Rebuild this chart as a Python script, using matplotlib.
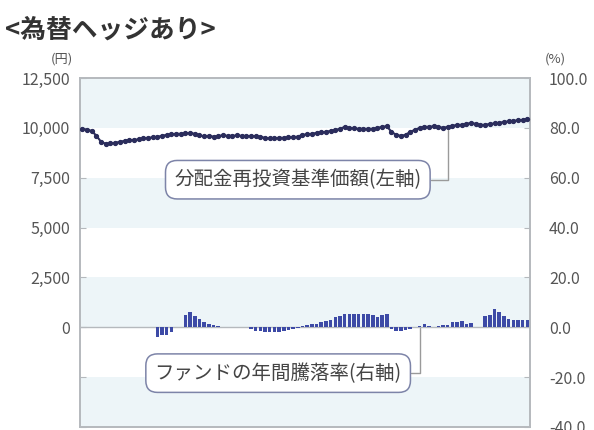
import numpy as np
import matplotlib
matplotlib.use("Agg")
import matplotlib.pyplot as plt

plt.rcParams["font.family"] = ["Noto Sans CJK JP", "DejaVu Sans"]

# monthly values
nav = [9950, 9900, 9850, 9600, 9300, 9200, 9220, 9250, 9300, 9350,
       9380, 9400, 9420, 9480, 9500, 9520, 9550, 9600, 9650, 9680,
       9700, 9700, 9720, 9750, 9700, 9620, 9580, 9600, 9560, 9600,
       9620, 9600, 9600, 9620, 9600, 9580, 9600, 9580, 9550, 9500,
       9470, 9480, 9500, 9500, 9520, 9530, 9560, 9650, 9680, 9700,
       9750, 9780, 9800, 9850, 9900, 9950, 10050, 10000, 9980, 9950,
       9950, 9950, 9950, 10000, 10050, 10080, 9800, 9650, 9600, 9650,
       9800, 9900, 10000, 10050, 10050, 10080, 10050, 10000, 10050, 10100,
       10150, 10150, 10200, 10250, 10200, 10150, 10150, 10200, 10220, 10250,
       10300, 10320, 10350, 10380, 10400, 10450]
nan = np.nan
ret = [nan] * 16 + [
    -4, -3, -3, -2, 0, 0, 5, 6, 4.5, 3.5,
    2, 1.5, 1, 0.5, 0.3, 0.2, 0.2, 0.2, 0.2, 0.2,
    -0.5, -1.5, -1.5, -2, -2, -1.8, -2, -1.5, -1.2, -0.5,
    -0.3, 0.5, 1, 1.2, 1.5, 2, 2.5, 3, 4, 4.5,
    5.5, 5.5, 5.5, 5.5, 5.5, 5.5, 5, 4, 5, 5.5,
    -0.5, -1.5, -1.5, -1.2, -0.8, 0.3, 0.5, 1.2, 0.5, 0.3,
    0.5, 0.8, 1, 2, 2, 2.5, 1.5, 1.8, 0.2, 0.2,
    4.5, 5, 7.5, 6, 4.5, 3.5, 3, 3, 3, 3]
months = np.arange(len(nav))

left_ticks = np.arange(-5000, 12501, 2500)
left_labels = [f"{v:,}" if v >= 0 else "" for v in left_ticks]
right_ticks = np.arange(-40, 101, 20)
right_labels = [f"{v:.1f}" for v in right_ticks]
bands = [(-40, -20), (0, 20), (40, 60), (80, 100)]

BAND = "#edf5f8"
GRAY = "#b5b9bd"
TXT = "#555555"

fig = plt.figure(figsize=(5.94, 4.30), dpi=100)
ax = fig.add_axes([0.1347, 0.007, 0.757, 0.8116])
ax2 = ax.twinx()

ax.set_xlim(-0.5, len(nav) - 0.5)
ax.set_ylim(-5000, 12500)
ax2.set_ylim(-40, 100)

# alternating background bands (drawn on the lower axes)
for lo, hi in bands:
    ax2.axhspan(lo, hi, color=BAND, zorder=0, lw=0)
ax2.axhline(0, color=GRAY, lw=1, zorder=1)

ax2.bar(months, ret, width=0.75, color="#3d4aa6", zorder=3)
ax.plot(months, nav, color="#2b2d5c", lw=1.5, marker="o", ms=2.8, zorder=4)
ax.set_zorder(ax2.get_zorder() + 1)
ax.patch.set_visible(False)

ax.set_xticks([])
ax.set_yticks(left_ticks)
ax.set_yticklabels(left_labels)
ax2.set_yticks(right_ticks)
ax2.set_yticklabels(right_labels)
ax.tick_params(axis="y", direction="in", length=4, color=GRAY, labelsize=11.5,
               labelcolor=TXT, pad=7)
ax2.tick_params(axis="y", direction="in", length=4, color=GRAY, labelsize=11.5,
                labelcolor=TXT, pad=14)
for a in (ax, ax2):
    for s in a.spines.values():
        s.set_color(GRAY)
        s.set_linewidth(1.2)

box = dict(boxstyle="round,pad=0.45,rounding_size=0.6", fc="white", ec="#7d84a8", lw=1.1)
arrow = dict(arrowstyle="-", color="#9a9a9a", lw=1, relpos=(1, 0.5),
             connectionstyle="angle,angleA=0,angleB=90,rad=0", shrinkA=0, shrinkB=2)
ax.annotate("分配金再投資基準価額(左軸)", xy=(78, nav[78]), xytext=(46, 7400),
            ha="center", va="center", fontsize=14, color="#444444",
            bbox=box, arrowprops=arrow, zorder=6)
ax2.annotate("ファンドの年間騰落率(右軸)", xy=(72, 1.0), xytext=(41.8, -18.4),
             ha="center", va="center", fontsize=14, color="#444444",
             bbox=box, arrowprops=arrow, zorder=6)

fig.text(0.008, 0.93, "<為替ヘッジあり>", fontsize=18.5, fontweight="bold",
         color="#333333", va="center")
fig.text(0.105, 0.862, "(円)", fontsize=9.5, color=TXT, ha="center", va="center")
fig.text(0.935, 0.862, "(%)", fontsize=9.5, color=TXT, ha="center", va="center")

fig.savefig("out.png", dpi=100)
